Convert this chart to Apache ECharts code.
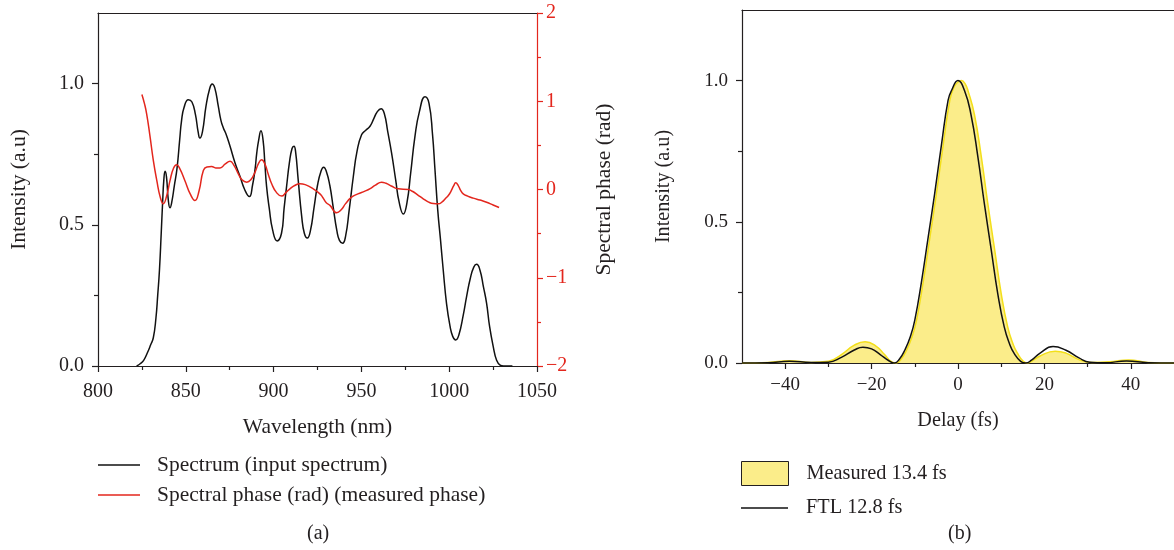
<!DOCTYPE html>
<html>
<head>
<meta charset="utf-8">
<script src="https://cdn.jsdelivr.net/npm/echarts@6/dist/echarts.min.js"></script>
<style>
  body { margin: 0; background: #fff; }
  #chart { width: 1174px; height: 550px; }
</style>
</head>
<body>
<div id="chart"></div>
<script>
// (a) spectrum
const specWl = [822, 824, 826, 828, 830, 831.5, 833, 834, 835, 836, 836.8, 837.5, 838.2, 839, 840, 841, 842, 843.5, 845, 846.5, 847.6, 849, 851.4, 853.5, 855.5, 857, 858, 859.5, 861.5, 863.5, 865, 866.5, 868.5, 870, 871.4, 873, 875.2, 878, 880.9, 883.5, 886.2, 888, 889.5, 890.4, 891.5, 892.8, 894, 895, 896, 897.5, 899.5, 902, 904.5, 906, 907.4, 909, 910.5, 911.6, 912.5, 914, 916, 917.5, 919.2, 921, 923, 925, 927, 928.5, 930, 932, 934, 936, 937.5, 939.3, 941, 943, 945.4, 947.5, 950.1, 952.5, 954.9, 957, 959, 961.2, 963, 965, 967.2, 969.5, 971.5, 973.9, 976, 978, 980.5, 983, 986.2, 988.5, 990.5, 991.9, 993.5, 995, 996.6, 998.5, 1000.5, 1002, 1003.7, 1005.5, 1008, 1009.9, 1012, 1014, 1015.6, 1017.5, 1019.5, 1021.3, 1023, 1025.1, 1027, 1029, 1031, 1036];
const specVal = [0, 0.008, 0.02, 0.045, 0.075, 0.10, 0.17, 0.25, 0.34, 0.47, 0.58, 0.66, 0.69, 0.67, 0.59, 0.56, 0.58, 0.64, 0.70, 0.80, 0.87, 0.915, 0.943, 0.935, 0.89, 0.83, 0.807, 0.83, 0.92, 0.98, 0.999, 0.985, 0.92, 0.87, 0.843, 0.82, 0.778, 0.72, 0.671, 0.625, 0.60, 0.64, 0.70, 0.754, 0.80, 0.833, 0.80, 0.72, 0.636, 0.56, 0.48, 0.443, 0.47, 0.56, 0.636, 0.72, 0.77, 0.778, 0.76, 0.66, 0.53, 0.47, 0.453, 0.48, 0.56, 0.64, 0.69, 0.704, 0.69, 0.64, 0.56, 0.48, 0.445, 0.435, 0.46, 0.55, 0.671, 0.76, 0.819, 0.835, 0.849, 0.875, 0.90, 0.911, 0.895, 0.83, 0.754, 0.66, 0.58, 0.538, 0.58, 0.68, 0.813, 0.90, 0.953, 0.93, 0.82, 0.695, 0.55, 0.45, 0.34, 0.22, 0.14, 0.105, 0.092, 0.11, 0.18, 0.246, 0.31, 0.35, 0.36, 0.34, 0.28, 0.222, 0.14, 0.068, 0.02, 0.003, 0, 0];

// (a) measured spectral phase (rad)
const phaseWl = [825, 826.5, 827.7, 829.5, 831.5, 833.5, 835.5, 837.2, 839, 841, 843, 844.8, 846.5, 849.5, 852.5, 855.2, 857.5, 860, 862, 864.7, 867, 869.5, 872.5, 875.2, 877.5, 879.9, 882, 884.7, 887, 889.5, 891.5, 893.2, 895, 897, 898.9, 901.5, 904.6, 907, 909.3, 912, 915, 918, 922.6, 926.4, 928, 930, 932.1, 935.9, 938.5, 941, 944.4, 948, 952, 955, 958, 961.5, 964, 967, 971, 976.7, 979, 982, 985.2, 988, 991, 993.8, 996, 998, 999.5, 1001, 1002.5, 1003.7, 1005, 1006.5, 1008, 1010.5, 1013.7, 1017.5, 1021.3, 1025, 1028.4];
const phaseVal = [1.077, 0.97, 0.858, 0.62, 0.33, 0.1, -0.09, -0.162, -0.08, 0.10, 0.24, 0.28, 0.24, 0.10, -0.05, -0.125, -0.02, 0.215, 0.255, 0.26, 0.245, 0.245, 0.29, 0.32, 0.27, 0.178, 0.11, 0.083, 0.11, 0.2, 0.3, 0.336, 0.29, 0.17, 0.065, -0.03, -0.075, -0.035, 0.008, 0.045, 0.065, 0.055, 0.008, -0.05, -0.09, -0.15, -0.18, -0.264, -0.23, -0.16, -0.087, -0.05, -0.019, 0.01, 0.05, 0.083, 0.07, 0.04, 0.008, 0, -0.02, -0.06, -0.105, -0.14, -0.16, -0.162, -0.14, -0.1, -0.068, -0.02, 0.04, 0.076, 0.05, -0.01, -0.049, -0.075, -0.098, -0.12, -0.144, -0.175, -0.204];

// (b) FTL pulse
const ftlDelay = [-50, -44, -39, -34, -30, -27, -24, -22, -20, -18, -16, -14.7, -13.5, -12.3, -11, -10, -8.4, -6.9, -5.4, -3.8, -2.3, -1.5, 0, 1.5, 3, 4.6, 6.1, 7.7, 9.2, 10.7, 12, 13, 14.5, 15.7, 17, 19, 22, 25, 28, 30.5, 34, 39, 44, 50];
const ftlVal = [0, 0.001, 0.006, 0.002, 0.003, 0.02, 0.046, 0.056, 0.05, 0.03, 0.008, 0, 0.015, 0.046, 0.095, 0.152, 0.293, 0.446, 0.60, 0.776, 0.93, 0.965, 1.0, 0.965, 0.88, 0.73, 0.564, 0.40, 0.246, 0.128, 0.065, 0.034, 0.006, 0, 0.01, 0.035, 0.058, 0.045, 0.018, 0.003, 0.001, 0.007, 0.001, 0];

// (b) measured pulse
const measDelay = [-50, -44, -39, -34, -30, -27, -24, -21.5, -19, -17, -15.5, -14.3, -13.1, -11.9, -10.6, -9.6, -8, -6.5, -5, -3.4, -1.9, -1, 0, 0.8, 1.6, 2.4, 3.8, 5.4, 6.9, 8.5, 10, 11.5, 12.8, 13.8, 15, 16, 17, 19, 22.5, 25, 28, 31, 35, 39.5, 44, 50];
const measVal = [0, 0.002, 0.008, 0.002, 0.006, 0.03, 0.063, 0.075, 0.06, 0.03, 0.006, 0, 0.015, 0.046, 0.095, 0.152, 0.293, 0.446, 0.60, 0.776, 0.93, 0.975, 0.995, 1.0, 0.99, 0.96, 0.88, 0.73, 0.564, 0.40, 0.246, 0.128, 0.065, 0.034, 0.008, 0, 0.006, 0.025, 0.042, 0.035, 0.012, 0.002, 0.004, 0.011, 0.002, 0];

const zip = (xs, ys) => xs.map((x, i) => [x, ys[i]]);
const FONT = "Liberation Serif";
const INK = "#231f20";
const RED = "#e3261d";
const fmt1 = v => v.toFixed(1);
const minus = v => (v < 0 ? "\u2212" + Math.abs(v) : String(v));
const tickLine = { color: INK, width: 1.2 };

// small helper: an invisible axis that only draws some ticks (minor ticks / frame lines)
function extraAxis(gridIndex, min, max, position, ticks, showLine) {
  return {
    type: "value", gridIndex: gridIndex, min: min, max: max, position: position,
    axisLine: { show: !!showLine, onZero: false, lineStyle: tickLine },
    axisTick: { show: ticks.length > 0, length: 4, customValues: ticks, lineStyle: tickLine },
    axisLabel: { show: false }, splitLine: { show: false }
  };
}

let option = {
  animation: false,
  textStyle: { fontFamily: FONT },
  grid: [
    { left: 98, top: 13, width: 439, height: 353 },
    { left: 742, top: 10, width: 435, height: 353 }
  ],
  xAxis: [
    {
      type: "value", gridIndex: 0, min: 800, max: 1050, interval: 50,
      axisLine: { show: true, onZero: false, lineStyle: tickLine },
      axisTick: { show: true, length: 6, lineStyle: tickLine },
      minorTick: { show: true, splitNumber: 2, length: 4, lineStyle: tickLine },
      axisLabel: { color: INK, fontFamily: FONT, fontSize: 20, margin: 16, formatter: v => String(v) },
      splitLine: { show: false },
      name: "Wavelength (nm)", nameLocation: "middle", nameGap: 50,
      nameTextStyle: { color: INK, fontFamily: FONT, fontSize: 21.5 }
    },
    extraAxis(0, 800, 1050, "top", [], true),
    {
      type: "value", gridIndex: 1, min: -50, max: 50,
      axisLine: { show: true, onZero: false, lineStyle: tickLine },
      axisTick: { show: true, length: 6, customValues: [-40, -20, 0, 20, 40], lineStyle: tickLine },
      axisLabel: { color: INK, fontFamily: FONT, fontSize: 19, margin: 13, customValues: [-40, -20, 0, 20, 40], formatter: minus },
      splitLine: { show: false },
      name: "Delay (fs)", nameLocation: "middle", nameGap: 48,
      nameTextStyle: { color: INK, fontFamily: FONT, fontSize: 20.2 }
    },
    extraAxis(1, -50, 50, "bottom", [-30, -10, 10, 30], false),
    extraAxis(1, -50, 50, "top", [], true)
  ],
  yAxis: [
    {
      type: "value", gridIndex: 0, min: 0, max: 1.25,
      axisLine: { show: true, onZero: false, lineStyle: tickLine },
      axisTick: { show: true, length: 6, customValues: [0, 0.5, 1], lineStyle: tickLine },
      axisLabel: { color: INK, fontFamily: FONT, fontSize: 20, margin: 14, customValues: [0, 0.5, 1], formatter: fmt1 },
      splitLine: { show: false },
      name: "Intensity (a.u)", nameLocation: "middle", nameGap: 68, nameRotate: 90,
      nameTextStyle: { color: INK, fontFamily: FONT, fontSize: 21.5 }
    },
    extraAxis(0, 0, 1.25, "left", [0.25, 0.75], false),
    {
      type: "value", gridIndex: 0, min: -2, max: 2, interval: 1, position: "right",
      axisLine: { show: true, onZero: false, lineStyle: { color: RED, width: 1.2 } },
      axisTick: { show: true, length: 6, lineStyle: { color: RED, width: 1.2 } },
      minorTick: { show: true, splitNumber: 2, length: 4, lineStyle: { color: RED, width: 1.2 } },
      axisLabel: { color: RED, fontFamily: FONT, fontSize: 20, margin: 9, formatter: minus },
      splitLine: { show: false },
      name: "Spectral phase (rad)", nameLocation: "middle", nameGap: 56, nameRotate: 90,
      nameTextStyle: { color: INK, fontFamily: FONT, fontSize: 21.5 }
    },
    {
      type: "value", gridIndex: 1, min: 0, max: 1.25,
      axisLine: { show: true, onZero: false, lineStyle: tickLine },
      axisTick: { show: true, length: 6, customValues: [0, 0.5, 1], lineStyle: tickLine },
      axisLabel: { color: INK, fontFamily: FONT, fontSize: 19, margin: 14, customValues: [0, 0.5, 1], formatter: fmt1 },
      splitLine: { show: false },
      name: "Intensity (a.u)", nameLocation: "middle", nameGap: 68, nameRotate: 90,
      nameTextStyle: { color: INK, fontFamily: FONT, fontSize: 20.2 }
    },
    extraAxis(1, 0, 1.25, "left", [0.25, 0.75], false)
  ],
  legend: [
    {
      orient: "vertical", left: 93, top: 449, itemWidth: 42, itemHeight: 1.5, itemGap: 8,
      icon: "rect", selectedMode: false,
      textStyle: { color: INK, fontFamily: FONT, fontSize: 21.5, lineHeight: 22, padding: [0, 0, 0, 12] },
      data: ["Spectrum (input spectrum)", "Spectral phase (rad) (measured phase)"]
    },
    {
      left: 736, top: 456, itemWidth: 47, itemHeight: 24, selectedMode: false,
      textStyle: { color: INK, fontFamily: FONT, fontSize: 20.3, padding: [0, 0, 0, 13] },
      data: [{ name: "Measured 13.4 fs", icon: "rect", itemStyle: { color: "#fbed8a", borderColor: INK, borderWidth: 1 } }]
    },
    {
      left: 736, top: 493, itemWidth: 47, itemHeight: 1.5, selectedMode: false,
      textStyle: { color: INK, fontFamily: FONT, fontSize: 20.3, lineHeight: 20, padding: [0, 0, 0, 13] },
      data: [{ name: "FTL 12.8 fs", icon: "rect" }]
    }
  ],
  graphic: [
    { type: "text", left: 307, top: 524, style: { text: "(a)", fill: INK, font: "20px " + FONT } },
    { type: "text", left: 948, top: 524, style: { text: "(b)", fill: INK, font: "20px " + FONT } }
  ],
  series: [
    {
      name: "Spectrum (input spectrum)", type: "line", xAxisIndex: 0, yAxisIndex: 0,
      data: zip(specWl, specVal), showSymbol: false, symbol: "none",
      smooth: 0.5,
      lineStyle: { color: "#111", width: 1.5 }, itemStyle: { color: "#111" }
    },
    {
      name: "Spectral phase (rad) (measured phase)", type: "line", xAxisIndex: 0, yAxisIndex: 2,
      data: zip(phaseWl, phaseVal), showSymbol: false, symbol: "none",
      smooth: 0.5,
      lineStyle: { color: RED, width: 1.5 }, itemStyle: { color: RED }
    },
    {
      name: "Measured 13.4 fs", type: "line", xAxisIndex: 2, yAxisIndex: 3,
      data: zip(measDelay, measVal), showSymbol: false, symbol: "none",
      smooth: 0.5,
      lineStyle: { color: "#f3df1a", width: 1.5 },
      areaStyle: { color: "#fbed8a", opacity: 1 },
      itemStyle: { color: "#fbed8a" }, z: 2
    },
    {
      name: "FTL 12.8 fs", type: "line", xAxisIndex: 2, yAxisIndex: 3,
      data: zip(ftlDelay, ftlVal), showSymbol: false, symbol: "none",
      smooth: 0.5,
      lineStyle: { color: "#111", width: 1.5 }, itemStyle: { color: "#111" }, z: 3
    }
  ]
};

const chartObj = echarts.init(document.getElementById("chart"));
chartObj.setOption(option);
window.addEventListener("resize", function() {
  chartObj.resize();
});
</script>
</body>
</html>
